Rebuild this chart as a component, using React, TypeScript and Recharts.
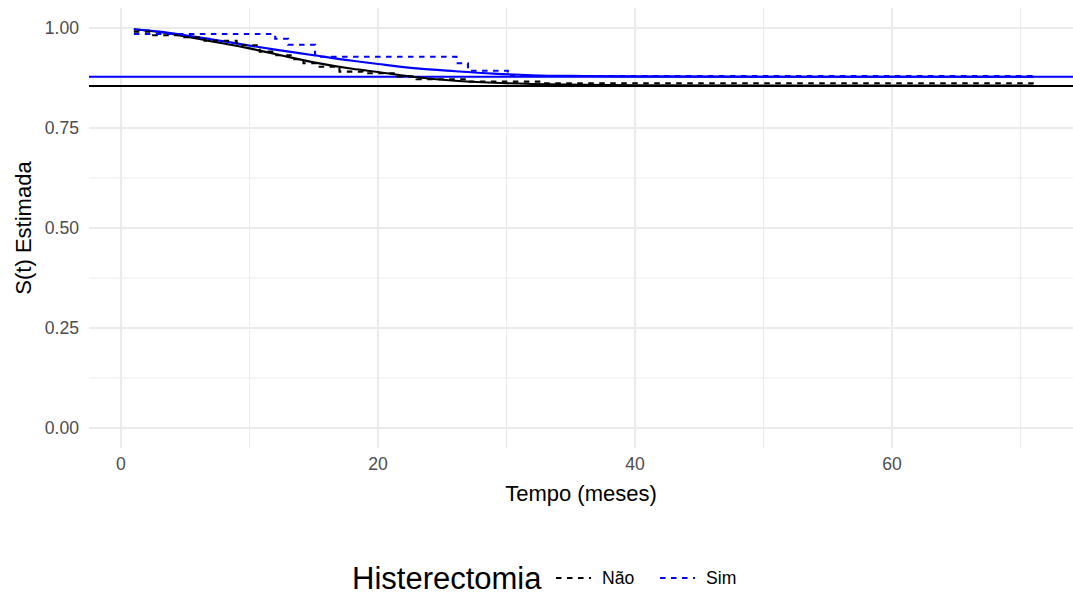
import React from 'react';
import { LineChart, Line, XAxis, YAxis, CartesianGrid, ReferenceLine, Legend } from 'recharts';

// Kaplan-Meier estimates (dashed step curves)
const kmNaoTime = [1.0, 2.5, 4.5, 6.5, 9.0, 10.8, 12.0, 13.2, 14.2, 15.3, 17.0, 18.8, 21.5, 23.0, 27.0, 33.0, 71.1];
const kmNaoSurv = [0.991, 0.982, 0.977, 0.968, 0.957, 0.941, 0.932, 0.922, 0.912, 0.903, 0.891, 0.887, 0.879, 0.872, 0.866, 0.862, 0.862];
const kmSimTime = [1.0, 12.0, 13.0, 15.1, 26.1, 27.0, 30.1, 71.1];
const kmSimSurv = [0.985, 0.973, 0.958, 0.928, 0.912, 0.893, 0.880, 0.880];

// Fitted (parametric) curves (solid)
const fitTime = [1, 3, 5, 7, 10, 12, 15, 18, 20, 23, 26, 29, 32, 36, 40, 50, 60, 71];
const fitNaoSurv = [0.997, 0.99, 0.979, 0.967, 0.949, 0.935, 0.914, 0.898, 0.89, 0.877, 0.868, 0.863, 0.86, 0.858, 0.857, 0.856, 0.856, 0.856];
const fitSimSurv = [0.997, 0.991, 0.982, 0.972, 0.956, 0.946, 0.932, 0.918, 0.91, 0.899, 0.892, 0.886, 0.882, 0.88, 0.879, 0.878, 0.878, 0.878];

// Cure fractions (horizontal lines)
const cureNao = 0.855;
const cureSim = 0.878;

const groups = ['Não', 'Sim'];
const groupColors = ['#000000', '#0000FF'];

const xMajor = [0, 20, 40, 60];
const xMinor = [10, 30, 50, 70];
const yMajor = [0, 0.25, 0.5, 0.75, 1];
const yMinor = [0.125, 0.375, 0.625, 0.875];

const toPoints = (ts: number[], ss: number[]) => ts.map((t, i) => ({ t, s: ss[i] }));
const kmNao = toPoints(kmNaoTime, kmNaoSurv);
const kmSim = toPoints(kmSimTime, kmSimSurv);
const fitNao = toPoints(fitTime, fitNaoSurv);
const fitSim = toPoints(fitTime, fitSimSurv);

const FONT = '"Liberation Sans", Arial, Helvetica, sans-serif';
const DASH = '5.5 5.5';
const LW = 2.1;

const YTitle = (props: any) => {
  const vb = props.viewBox || { x: 0, y: 8, width: 89, height: 440 };
  const cx = vb.x + 31;
  const cy = vb.y + vb.height / 2;
  return (
    <text x={cx} y={cy} transform={`rotate(-90, ${cx}, ${cy})`} textAnchor="middle" fontSize={22} fontFamily={FONT} fill="#000000">
      S(t) Estimada
    </text>
  );
};

const XTitle = (props: any) => {
  const vb = props.viewBox || { x: 89, y: 448, width: 984, height: 70 };
  return (
    <text x={vb.x + vb.width / 2} y={vb.y + 53} textAnchor="middle" fontSize={22} fontFamily={FONT} fill="#000000">
      Tempo (meses)
    </text>
  );
};

const LegendContent = () => (
  <svg width={1073} height={77} style={{ display: 'block' }}>
    <text x={352} y={71} fontSize={31} fontFamily={FONT} fill="#000000">Histerectomia</text>
    <line x1={556} x2={591} y1={60} y2={60} stroke={groupColors[0]} strokeWidth={LW} strokeDasharray={DASH} />
    <text x={602} y={66} fontSize={17.6} fontFamily={FONT} fill="#000000">{groups[0]}</text>
    <line x1={660} x2={695} y1={60} y2={60} stroke={groupColors[1]} strokeWidth={LW} strokeDasharray={DASH} />
    <text x={706} y={66} fontSize={17.6} fontFamily={FONT} fill="#000000">{groups[1]}</text>
  </svg>
);

export default function App() {
  return (
    <div style={{ position: 'absolute', left: 0, top: 0, width: 1073, height: 595, overflow: 'hidden', background: '#fff' }}>
      <LineChart width={1073} height={595} margin={{ top: 8, right: 0, bottom: 0, left: 0 }}>
        <CartesianGrid stroke="#EBEBEB" strokeWidth={1.05} horizontalValues={yMinor} verticalValues={xMinor} />
        <CartesianGrid stroke="#EBEBEB" strokeWidth={2.1} horizontalValues={yMajor} verticalValues={xMajor} />
        <XAxis
          dataKey="t"
          type="number"
          domain={[-2.49, 74.08]}
          allowDataOverflow
          ticks={xMajor}
          interval={0}
          axisLine={false}
          tickLine={false}
          tickSize={0}
          tickMargin={10}
          height={70}
          tick={{ fontSize: 17.6, fill: '#4D4D4D', fontFamily: FONT }}
          label={<XTitle />}
        />
        <YAxis
          type="number"
          domain={[-0.05, 1.05]}
          allowDataOverflow
          ticks={yMajor}
          interval={0}
          tickFormatter={(v: number) => v.toFixed(2)}
          axisLine={false}
          tickLine={false}
          tickSize={0}
          tickMargin={10}
          width={89}
          tick={{ fontSize: 17.6, fill: '#4D4D4D', fontFamily: FONT }}
          label={<YTitle />}
        />
        <ReferenceLine y={cureNao} stroke={groupColors[0]} strokeWidth={LW} />
        <ReferenceLine y={cureSim} stroke={groupColors[1]} strokeWidth={LW} />
        <Line data={fitNao} dataKey="s" type="monotone" stroke={groupColors[0]} strokeWidth={LW} dot={false} isAnimationActive={false} legendType="none" />
        <Line data={fitSim} dataKey="s" type="monotone" stroke={groupColors[1]} strokeWidth={LW} dot={false} isAnimationActive={false} legendType="none" />
        <Line data={kmNao} dataKey="s" type="stepAfter" stroke={groupColors[0]} strokeWidth={LW} strokeDasharray={DASH} dot={false} isAnimationActive={false} name={groups[0]} />
        <Line data={kmSim} dataKey="s" type="stepAfter" stroke={groupColors[1]} strokeWidth={LW} strokeDasharray={DASH} dot={false} isAnimationActive={false} name={groups[1]} />
        <Legend verticalAlign="bottom" content={<LegendContent />} wrapperStyle={{ left: 0, width: 1073 }} />
      </LineChart>
    </div>
  );
}
